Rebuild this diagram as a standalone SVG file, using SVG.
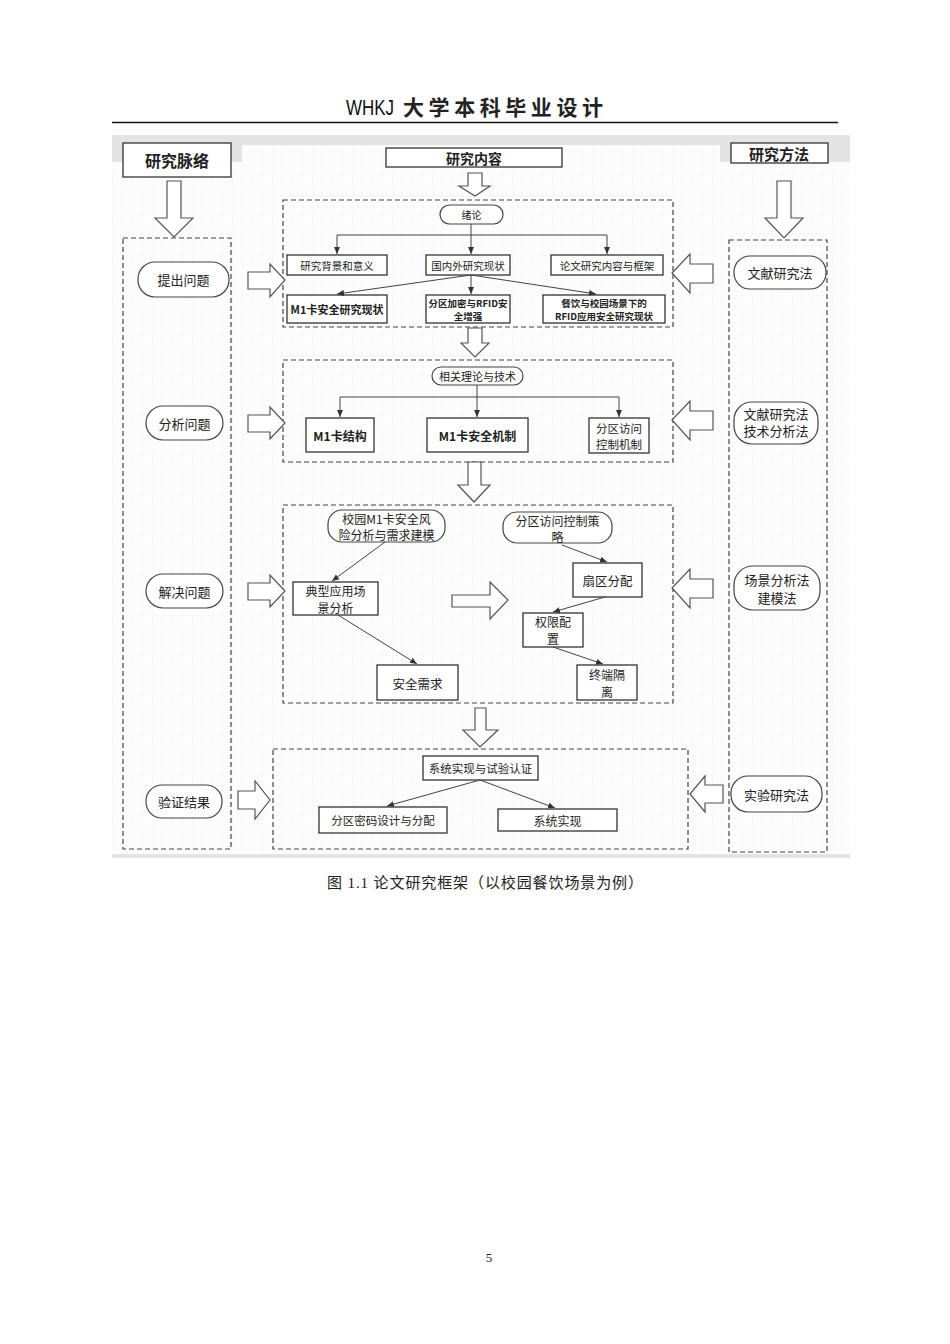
<svg xmlns="http://www.w3.org/2000/svg" width="950" height="1344" viewBox="0 0 950 1344">
<style>
.cj{font-family:"Noto Sans CJK SC","Noto Sans",sans-serif;fill:#222;text-anchor:middle;dominant-baseline:central}
.box{fill:#fff;stroke:#333;stroke-width:1.3}
.pill{fill:#fff;stroke:#444;stroke-width:1.2}
.dash{fill:none;stroke:#444;stroke-width:1.2;stroke-dasharray:5 3}
.blk{fill:#fff;stroke:#555;stroke-width:1.2;stroke-linejoin:miter}
.conn{fill:none;stroke:#444;stroke-width:1;marker-end:url(#ah)}
</style>
<defs>
<marker id="ah" markerWidth="8" markerHeight="8" refX="7" refY="4" orient="auto" markerUnits="userSpaceOnUse">
<path d="M0,1 L7,4 L0,7 z" fill="#333"/>
</marker>
<pattern id="grid" width="10" height="10" patternUnits="userSpaceOnUse" x="2" y="5">
<path d="M10,0 H0 V10" fill="none" stroke="#ececec" stroke-width="0.6"/>
</pattern>
</defs>
<rect width="950" height="1344" fill="#fff"/>
<!-- header -->
<g id="header">
<text x="370" y="115" font-family="Liberation Sans,sans-serif" font-size="22" text-anchor="middle" fill="#111" textLength="48" lengthAdjust="spacingAndGlyphs">WHKJ</text>
<text x="503" y="115" class="cj" style="dominant-baseline:auto" font-size="21" font-weight="bold" fill="#111" textLength="200" lengthAdjust="spacing">大学本科毕业设计</text>
<line x1="112" y1="122.5" x2="838" y2="122.5" stroke="#111" stroke-width="1.3"/>
</g>
<!-- background picture -->
<g id="background">
<rect x="112" y="135" width="738" height="723" fill="#fdfdfd"/>
<rect x="112" y="135" width="738" height="723" fill="url(#grid)"/>
<rect x="112" y="135" width="738" height="10" fill="#e4e4e4"/>
<rect x="112" y="135" width="130" height="27" fill="#e4e4e4"/>
<rect x="720" y="135" width="130" height="27" fill="#e4e4e4"/>
<rect x="112" y="854" width="738" height="4" fill="#e4e4e4"/>
</g>
<!-- titles -->
<g id="n-mailuo"><rect class="box" x="123" y="143" width="108" height="34"/><text class="cj" x="177" y="160" font-size="16" font-weight="bold">研究脉络</text></g>
<g id="n-neirong"><rect class="box" x="386" y="148" width="176" height="19"/><text class="cj" x="474" y="157.5" font-size="14" font-weight="bold">研究内容</text></g>
<g id="n-fangfa"><rect class="box" x="731" y="143" width="97" height="20"/><text class="cj" x="779" y="153" font-size="15" font-weight="bold">研究方法</text></g>
<!-- dashed containers -->
<g id="n-leftcol"><rect class="dash" x="123" y="238" width="108" height="611"/></g>
<g id="n-rightcol"><rect class="dash" x="729" y="240" width="98" height="612"/></g>
<g id="n-sec1"><rect class="dash" x="283" y="200" width="390" height="127"/></g>
<g id="n-sec2"><rect class="dash" x="283" y="360" width="390" height="102"/></g>
<g id="n-sec3"><rect class="dash" x="283" y="505" width="390" height="198"/></g>
<g id="n-sec4"><rect class="dash" x="273" y="749" width="415" height="100"/></g>
<!-- block arrows -->
<g id="block-arrows">
<polygon class="blk" points="167,181 181,181 181,218 193,218 174,237 155,218 167,218"/>
<polygon class="blk" points="468,173 482,173 482,186 490,186 475,196 459,186 468,186"/>
<polygon class="blk" points="777,181 791,181 791,218 803,218 784,238 765,218 777,218"/>
<polygon class="blk" points="468,328 482,328 482,343 489,343 475,357 461,343 468,343"/>
<polygon class="blk" points="468,462 481,462 481,485 490,485 474,502 458,485 468,485"/>
<polygon class="blk" points="475,708 486,708 486,730 498,730 480,747 463,730 475,730"/>
<polygon class="blk" points="452,595 490,595 490,582 508,600 490,619 490,607 452,607"/>
<polygon class="blk" points="248,272 270,272 270,264 285,280 270,297 270,289 248,289"/>
<polygon class="blk" points="248,415 270,415 270,407 285,423 270,439 270,432 248,432"/>
<polygon class="blk" points="248,583 270,583 270,575 285,591 270,607 270,600 248,600"/>
<polygon class="blk" points="238,791 255,791 255,781 270,800 255,819 255,809 238,809"/>
<polygon class="blk" points="713,264 690,264 690,254 672,273 690,293 690,283 713,283"/>
<polygon class="blk" points="713,411 690,411 690,401 672,420 690,440 690,430 713,430"/>
<polygon class="blk" points="713,579 690,579 690,569 672,588 690,608 690,598 713,598"/>
<polygon class="blk" points="723,785 705,785 705,776 690,794 705,812 705,803 723,803"/>
</g>
<!-- left pills -->
<g id="n-tichu"><rect class="pill" x="138" y="262" width="91" height="35" rx="17"/><text class="cj" x="183.5" y="279.5" font-size="13">提出问题</text></g>
<g id="n-fenxi"><rect class="pill" x="146" y="406" width="77" height="34" rx="17"/><text class="cj" x="184.5" y="423" font-size="13">分析问题</text></g>
<g id="n-jiejue"><rect class="pill" x="146" y="574" width="77" height="34" rx="17"/><text class="cj" x="184.5" y="591" font-size="13">解决问题</text></g>
<g id="n-yanzheng"><rect class="pill" x="146" y="785" width="76" height="33" rx="16"/><text class="cj" x="184" y="801.5" font-size="13">验证结果</text></g>
<!-- right pills -->
<g id="n-wenxian"><rect class="pill" x="734" y="256" width="92" height="33" rx="16"/><text class="cj" x="780" y="272.5" font-size="13">文献研究法</text></g>
<g id="n-wenxian2"><rect class="pill" x="734" y="402" width="84" height="42" rx="18"/><text class="cj" x="776" y="413" font-size="13">文献研究法</text><text class="cj" x="776" y="430.5" font-size="13">技术分析法</text></g>
<g id="n-changjing"><rect class="pill" x="734" y="566" width="86" height="44" rx="19"/><text class="cj" x="777" y="579.5" font-size="13">场景分析法</text><text class="cj" x="777" y="597" font-size="13">建模法</text></g>
<g id="n-shiyan"><rect class="pill" x="731" y="776" width="91" height="36" rx="17"/><text class="cj" x="776.5" y="794" font-size="13">实验研究法</text></g>
<!-- section 1 -->
<g id="n-xulun"><rect class="pill" x="440" y="205" width="63" height="19" rx="9.5"/><text class="cj" x="471.5" y="214.5" font-size="10">绪论</text></g>
<g id="n-beijing"><rect class="box" x="287" y="255" width="100" height="20"/><text class="cj" x="337" y="265" font-size="10.5">研究背景和意义</text></g>
<g id="n-guoneiwai"><rect class="box" x="426" y="255" width="84" height="20"/><text class="cj" x="468" y="265" font-size="10.5">国内外研究现状</text></g>
<g id="n-kuangjia"><rect class="box" x="551" y="255" width="112" height="20"/><text class="cj" x="607" y="265" font-size="10.5">论文研究内容与框架</text></g>
<g id="n-m1xianzhuang"><rect class="box" x="287" y="295" width="100" height="28"/><text class="cj" x="337" y="309" font-size="11" font-weight="bold">M1卡安全研究现状</text></g>
<g id="n-fenqujiami"><rect class="box" x="426" y="295" width="84" height="28"/><text class="cj" x="468" y="302.5" font-size="9.5" font-weight="bold">分区加密与RFID安</text><text class="cj" x="468" y="315.5" font-size="9.5" font-weight="bold">全增强</text></g>
<g id="n-canyin"><rect class="box" x="543" y="295" width="122" height="28"/><text class="cj" x="604" y="302.5" font-size="9.5" font-weight="bold">餐饮与校园场景下的</text><text class="cj" x="604" y="315.5" font-size="9.5" font-weight="bold">RFID应用安全研究现状</text></g>
<!-- section 2 -->
<g id="n-lilun"><rect class="pill" x="432" y="367" width="91" height="18" rx="9"/><text class="cj" x="477.5" y="376" font-size="11">相关理论与技术</text></g>
<g id="n-jiegou"><rect class="box" x="306" y="418" width="68" height="34"/><text class="cj" x="340" y="435" font-size="12" font-weight="bold">M1卡结构</text></g>
<g id="n-jizhi"><rect class="box" x="427" y="418" width="101" height="34"/><text class="cj" x="477.5" y="435" font-size="12" font-weight="bold">M1卡安全机制</text></g>
<g id="n-kongzhi"><rect class="box" x="589" y="418" width="60" height="35"/><text class="cj" x="619" y="427.5" font-size="11.5">分区访问</text><text class="cj" x="619" y="443.5" font-size="11.5">控制机制</text></g>
<!-- section 3 -->
<g id="n-fengxian"><rect class="pill" x="328" y="510" width="117" height="32" rx="14"/><text class="cj" x="386.5" y="518" font-size="12">校园M1卡安全风</text><text class="cj" x="386.5" y="534.5" font-size="12">险分析与需求建模</text></g>
<g id="n-celue"><rect class="pill" x="503" y="512" width="109" height="31" rx="14"/><text class="cj" x="557.5" y="520" font-size="12">分区访问控制策</text><text class="cj" x="557.5" y="536" font-size="12">略</text></g>
<g id="n-dianxing"><rect class="box" x="293" y="582" width="85" height="33"/><text class="cj" x="335.5" y="590.5" font-size="12">典型应用场</text><text class="cj" x="335.5" y="607" font-size="12">景分析</text></g>
<g id="n-xuqiu"><rect class="box" x="377" y="665" width="81" height="35"/><text class="cj" x="417.5" y="683" font-size="12.5">安全需求</text></g>
<g id="n-shanqu"><rect class="box" x="573" y="563" width="69" height="34"/><text class="cj" x="607.5" y="580" font-size="12.5">扇区分配</text></g>
<g id="n-quanxian"><rect class="box" x="523" y="613" width="60" height="34"/><text class="cj" x="553" y="621.5" font-size="12">权限配</text><text class="cj" x="553" y="638.5" font-size="12">置</text></g>
<g id="n-geli"><rect class="box" x="577" y="665" width="60" height="35"/><text class="cj" x="607" y="674" font-size="12">终端隔</text><text class="cj" x="607" y="691" font-size="12">离</text></g>
<!-- section 4 -->
<g id="n-xitong"><rect class="box" x="423" y="756" width="115" height="24"/><text class="cj" x="480.5" y="768" font-size="11.5">系统实现与试验认证</text></g>
<g id="n-mima"><rect class="box" x="319" y="807" width="128" height="26"/><text class="cj" x="383" y="820" font-size="11.5">分区密码设计与分配</text></g>
<g id="n-shixian"><rect class="box" x="498" y="809" width="119" height="22"/><text class="cj" x="557.5" y="820" font-size="12">系统实现</text></g>
<!-- connectors -->
<g id="connectors">
<path class="conn" d="M471 224 V254"/>
<path class="conn" d="M471 235 H337 V254"/>
<path class="conn" d="M471 235 H607 V254"/>
<path class="conn" d="M471 275 L337 294"/>
<path class="conn" d="M471 275 V294"/>
<path class="conn" d="M471 275 L596 294"/>
<path class="conn" d="M477 385 V417"/>
<path class="conn" d="M477 397 H340 V417"/>
<path class="conn" d="M477 397 H619 V417"/>
<path class="conn" d="M385 542 L332 581"/>
<path class="conn" d="M338 615 L417 664"/>
<path class="conn" d="M562 545 L607 562"/>
<path class="conn" d="M605 597 L553 612"/>
<path class="conn" d="M553 647 L603 664"/>
<path class="conn" d="M480 780 L387 806"/>
<path class="conn" d="M480 780 L555 808"/>
</g>
<!-- caption -->
<g id="caption">
<text x="485" y="888" font-family="Liberation Serif,Noto Sans CJK SC,serif" font-size="15" text-anchor="middle" fill="#222" textLength="316" lengthAdjust="spacing">图  1.1 论文研究框架（以校园餐饮场景为例）</text>
<text x="489" y="1262" font-family="Liberation Serif,serif" font-size="13" text-anchor="middle" fill="#222">5</text>
</g>
</svg>
